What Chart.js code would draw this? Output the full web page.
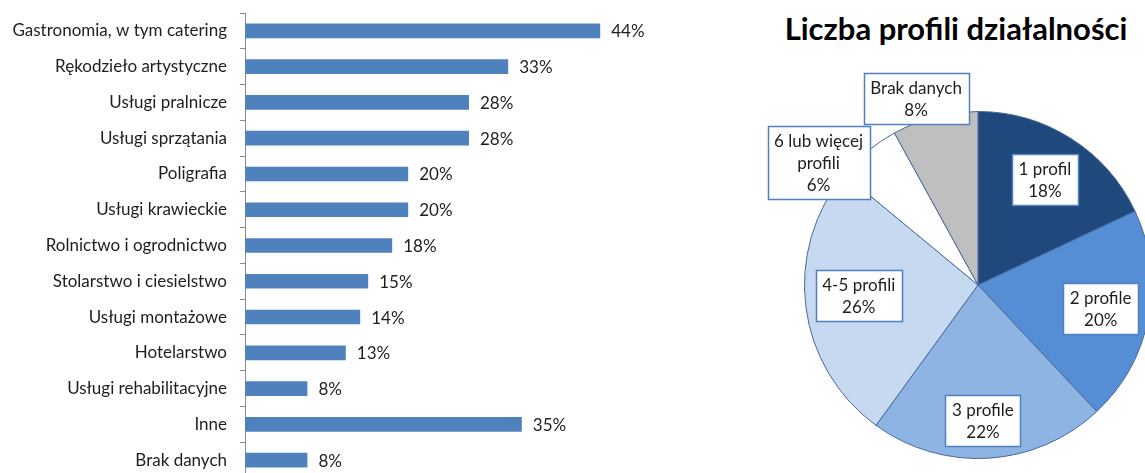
<!DOCTYPE html>
<html><head><meta charset="utf-8">
<script src="https://cdn.jsdelivr.net/npm/chart.js@4"></script>
<style>
html,body{margin:0;padding:0;width:1145px;height:473px;overflow:hidden;background:#fff;}
#bar{position:absolute;left:0;top:0;}
#pie{position:absolute;left:740px;top:60px;}
#title{position:absolute;left:736px;width:440px;top:8px;height:40px;line-height:40px;text-align:center;font-family:Lato,sans-serif;font-weight:bold;font-size:31px;color:#000;white-space:nowrap;}
</style></head><body>
<div id="title">Liczba profili działalności</div>
<canvas id="bar" width="700" height="478"></canvas>
<canvas id="pie" width="476" height="450"></canvas>
<script>
// ---- data: bar chart ----
const barCategories = ['Gastronomia, w tym catering','Rękodzieło artystyczne','Usługi pralnicze','Usługi sprzątania','Poligrafia','Usługi krawieckie','Rolnictwo i ogrodnictwo','Stolarstwo i ciesielstwo','Usługi montażowe','Hotelarstwo','Usługi rehabilitacyjne','Inne','Brak danych'];
const barValues = [44.4, 32.9, 28.0, 28.0, 20.4, 20.4, 18.4, 15.4, 14.4, 12.6, 7.8, 34.6, 7.8];
const barAxisMax = 50;

// ---- data: pie chart ----
const pieTitle = 'Liczba profili działalności';
const pieCategories = ['1 profil','2 profile','3 profile','4-5 profili','6 lub więcej profili','Brak danych'];
const pieValues = [18, 20, 22, 26, 6, 8];

document.getElementById('title').textContent = pieTitle;

const FONT = 'Lato, sans-serif';
const TEXT = '#1e1e1e';

const barValueLabels = {
  id: 'barValueLabels',
  afterDatasetsDraw(chart) {
    const ctx = chart.ctx;
    const meta = chart.getDatasetMeta(0);
    ctx.save();
    ctx.font = '17px ' + FONT;
    ctx.fillStyle = TEXT;
    ctx.textAlign = 'left';
    ctx.textBaseline = 'middle';
    meta.data.forEach((el, i) => {
      ctx.fillText(Math.round(barValues[i]) + '%', el.x + 11, el.y + 1);
    });
    ctx.restore();
  }
};

new Chart(document.getElementById('bar'), {
  type: 'bar',
  data: {
    labels: barCategories,
    datasets: [{
      data: barValues,
      backgroundColor: '#4F81BD',
      borderWidth: 0,
      barPercentage: 0.41,
      categoryPercentage: 1.0
    }]
  },
  options: {
    indexAxis: 'y',
    responsive: false,
    animation: false,
    layout: { padding: { top: 13, right: 55, bottom: 0, left: 0 } },
    plugins: { legend: { display: false }, tooltip: { enabled: false } },
    scales: {
      x: { display: false, min: 0, max: barAxisMax },
      y: {
        afterFit(scale) { scale.width = 245; scale.paddingTop = 0; scale.paddingBottom = 0; },
        grid: { offset: true, drawOnChartArea: false, drawTicks: true, tickLength: 5, color: '#8a8a8a', lineWidth: 1 },
        border: { display: true, color: '#8a8a8a', width: 1 },
        ticks: { autoSkip: false, padding: 13, color: TEXT, font: { family: FONT, size: 17 } }
      }
    }
  },
  plugins: [barValueLabels]
});

function wrapLines(ctx, text, maxW) {
  const words = text.split(' ');
  const lines = [];
  let cur = '';
  words.forEach(w => {
    const t = cur ? cur + ' ' + w : w;
    if (cur && ctx.measureText(t).width > maxW) { lines.push(cur); cur = w; }
    else cur = t;
  });
  if (cur) lines.push(cur);
  return lines;
}

const pieLabelBoxes = {
  id: 'pieLabelBoxes',
  afterDatasetsDraw(chart, args, opts) {
    const ctx = chart.ctx;
    const meta = chart.getDatasetMeta(0);
    ctx.save();
    ctx.font = '17px ' + FONT;
    ctx.textAlign = 'center';
    ctx.textBaseline = 'middle';
    const lh = 22;
    meta.data.forEach((arc, i) => {
      const p = opts.placement[i];
      const mid = (arc.startAngle + arc.endAngle) / 2 + p.da * Math.PI / 180;
      const r = arc.outerRadius * p.r;
      const cx = arc.x + r * Math.cos(mid);
      const cy = arc.y + r * Math.sin(mid);
      const lines = wrapLines(ctx, pieCategories[i], 110).concat([Math.round(pieValues[i]) + '%']);
      const w = Math.round(Math.max(...lines.map(l => ctx.measureText(l).width)) + 13);
      const h = lines.length * lh + 7;
      const x0 = Math.round(cx - w / 2) + 0.5, y0 = Math.round(cy - h / 2) + 0.5;
      ctx.fillStyle = '#fff';
      ctx.fillRect(x0, y0, w, h);
      ctx.strokeStyle = '#4F81BD';
      ctx.lineWidth = 1.5;
      ctx.strokeRect(x0, y0, w, h);
      ctx.fillStyle = TEXT;
      lines.forEach((l, j) => ctx.fillText(l, cx, cy - (lines.length - 1) * lh / 2 + j * lh + 1));
    });
    ctx.restore();
  }
};

new Chart(document.getElementById('pie'), {
  type: 'pie',
  data: {
    labels: pieCategories,
    datasets: [{
      data: pieValues,
      backgroundColor: ['#1F497D','#558ED5','#8DB4E2','#C6D9F1','#FFFFFF','#BFBFBF'],
      borderColor: '#46699a',
      borderWidth: 1
    }]
  },
  options: {
    responsive: false,
    animation: false,
    layout: { padding: { top: 51, bottom: 51, left: 64, right: 64 } },
    plugins: {
      legend: { display: false },
      tooltip: { enabled: false },
      pieLabelBoxes: {
        placement: [
          { r: 0.72, da: 0 },
          { r: 0.72, da: 0 },
          { r: 0.78, da: 1.5 },
          { r: 0.69, da: 2 },
          { r: 1.16, da: -12.8 },
          { r: 1.13, da: -4 }
        ]
      }
    }
  },
  plugins: [pieLabelBoxes]
});
</script>
</body></html>
